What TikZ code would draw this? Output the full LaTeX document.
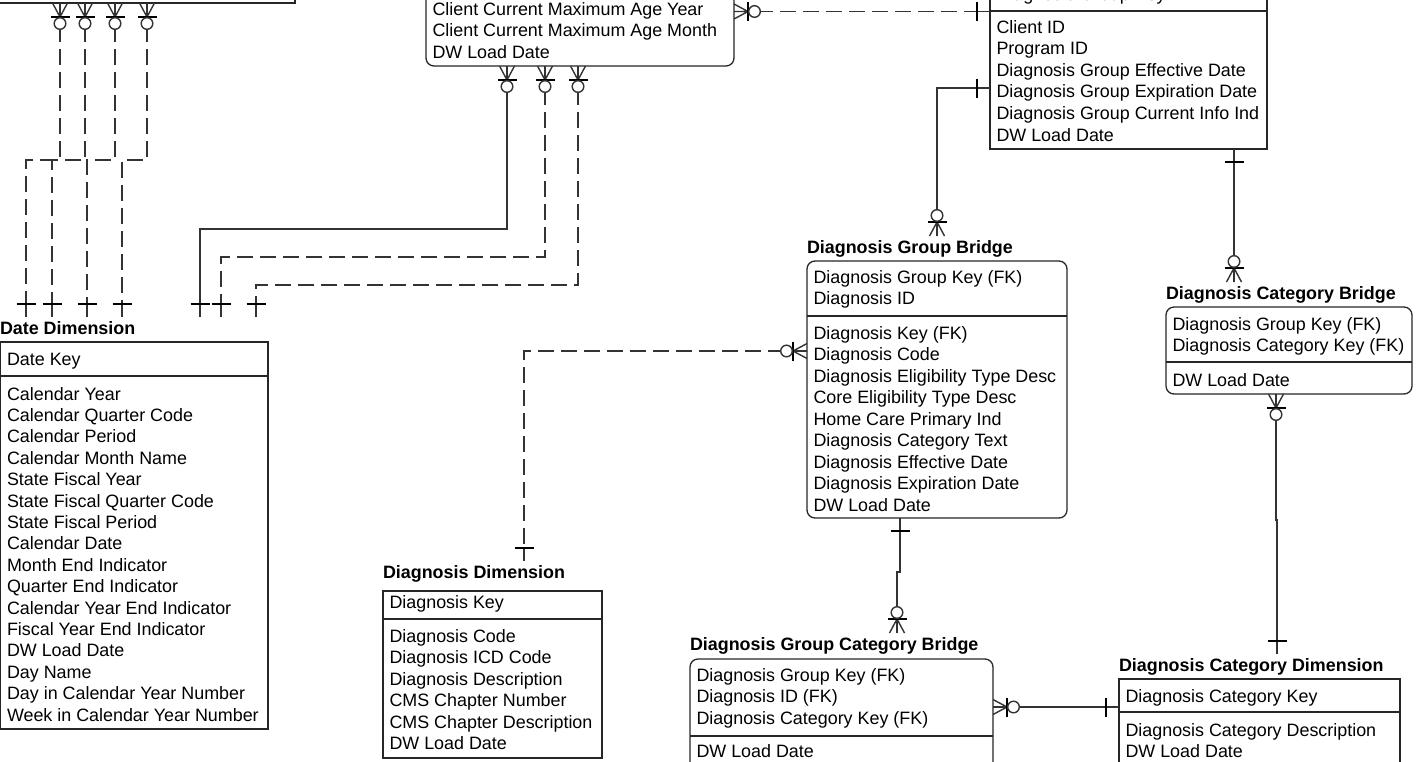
\documentclass[tikz,border=0pt]{standalone}
\usepackage{fontspec}
\setmainfont{Liberation Sans}
\newcommand\erows[5]{\foreach \t [count=\i] in {#5} {\node[txt] (#1-\i) at (#2,{#3+#4*(\i-1)}) {\t};}}
\tikzset{
  ebox/.style={draw=black!85, line width=1.3pt, outer sep=0pt, inner sep=0pt, fill=white, anchor=north west},
  rbox/.style={ebox, rounded corners=8pt},
  txt/.style={font=\fontsize{17.9}{21.5}\selectfont, anchor=base west, inner sep=0pt, outer sep=0pt},
  ttl/.style={txt, font=\fontsize{17.9}{21.5}\selectfont\bfseries, text height=17pt, text depth=4pt},
  conn/.style={draw=black!80, line width=1.4pt},
  dconn/.style={conn, dash pattern=on 16pt off 7pt},
  sepline/.style={draw=black!85, line width=1.3pt},
  barline/.style={draw=black, line width=2.2pt},
  manyopt/.pic={
    \draw[conn] (0,7.5) -- (14,0) -- (0,-7.5) (0,0) -- (14,0);
    \draw[barline] (14,-9.5) -- (14,9.5);
    \draw[conn, fill=white] (20.5,0) circle (5.8pt);
  },
  one/.pic={
    \draw[conn] (0,0) -- (13,0);
    \draw[barline] (13,-9.5) -- (13,9.5);
  }
}
\begin{document}
\begin{tikzpicture}[x=1pt, y=-1pt]
\useasboundingbox (0,0) rectangle (1421,761);
\clip (0,0) rectangle (1421,761);

% ---------- entity boxes ----------
\node[ebox, anchor=south east, minimum width=350pt, minimum height=60pt] (tl) at (295,3) {};
\node[ebox, minimum width=267.35pt, minimum height=387pt] (dd) at (0.65,342) {};
\node[rbox, minimum width=308pt, minimum height=106pt] (cb) at (426,-40) {};
\node[ebox, minimum width=277pt, minimum height=189pt] (rb) at (990,-40) {};
\node[rbox, minimum width=260pt, minimum height=257pt] (dgb) at (807,261) {};
\node[rbox, minimum width=246pt, minimum height=87pt] (dcb) at (1166,307) {};
\node[ebox, minimum width=281pt, minimum height=120pt] (dcd) at (1119,679) {};
\node[rbox, minimum width=303pt, minimum height=140pt] (dgcb) at (690,659) {};
\node[ebox, minimum width=219pt, minimum height=167pt] (ddim) at (383,591) {};

% separators
\draw[sepline] (dd.west |- 0,376) -- (dd.east |- 0,376);
\draw[sepline] (rb.west |- 0,11) -- (rb.east |- 0,11);
\draw[sepline] (dgb.west |- 0,316) -- (dgb.east |- 0,316);
\draw[sepline] (dcb.west |- 0,362) -- (dcb.east |- 0,362);
\draw[sepline] (dcd.west |- 0,712) -- (dcd.east |- 0,712);
\draw[sepline] (dgcb.west |- 0,736) -- (dgcb.east |- 0,736);
\draw[sepline] (ddim.west |- 0,619) -- (ddim.east |- 0,619);

% ---------- titles ----------
\node[ttl] (ddt) at (0,334) {Date Dimension};
\node[ttl] (dgbt) at (807,253) {Diagnosis Group Bridge};
\node[ttl] (dcbt) at (1166,299) {Diagnosis Category Bridge};
\node[ttl] (dcdt) at (1119,671) {Diagnosis Category Dimension};
\node[ttl] (dgcbt) at (690,650) {Diagnosis Group Category Bridge};
\node[ttl] (ddimt) at (383,578) {Diagnosis Dimension};

% ---------- attribute texts ----------
\erows{ddk}{7}{365}{21.4}{Date Key}
\erows{dda}{7}{400}{21.4}{Calendar Year, Calendar Quarter Code, Calendar Period, Calendar Month Name, State Fiscal Year, State Fiscal Quarter Code, State Fiscal Period, Calendar Date, Month End Indicator, Quarter End Indicator, Calendar Year End Indicator, Fiscal Year End Indicator, DW Load Date, Day Name, Day in Calendar Year Number, Week in Calendar Year Number}
\erows{cba}{432.5}{15.5}{21.3}{Client Current Maximum Age Year, Client Current Maximum Age Month, DW Load Date}
\erows{rbk}{996.5}{0}{21.5}{Diagnosis Group Key}
\erows{rba}{996.5}{33}{21.6}{Client ID, Program ID, Diagnosis Group Effective Date, Diagnosis Group Expiration Date, Diagnosis Group Current Info Ind, DW Load Date}
\erows{dgbk}{813.5}{283}{21.5}{Diagnosis Group Key (FK), Diagnosis ID}
\erows{dgba}{813.5}{339}{21.5}{Diagnosis Key (FK), Diagnosis Code, Diagnosis Eligibility Type Desc, Core Eligibility Type Desc, Home Care Primary Ind, Diagnosis Category Text, Diagnosis Effective Date, Diagnosis Expiration Date, DW Load Date}
\erows{dcbk}{1172.5}{330}{21.5}{Diagnosis Group Key (FK), Diagnosis Category Key (FK)}
\erows{dcba}{1172.5}{386}{21.5}{DW Load Date}
\erows{dcdk}{1125.5}{702}{21.5}{Diagnosis Category Key}
\erows{dcda}{1125.5}{736}{21.5}{Diagnosis Category Description, DW Load Date}
\erows{dgcbk}{696.5}{681}{21.6}{Diagnosis Group Key (FK), Diagnosis ID (FK), Diagnosis Category Key (FK)}
\erows{dgcba}{696.5}{757}{21.5}{DW Load Date}
\erows{ddimk}{389.5}{608}{21.5}{Diagnosis Key}
\erows{ddima}{389.5}{642}{21.5}{Diagnosis Code, Diagnosis ICD Code, Diagnosis Description, CMS Chapter Number, CMS Chapter Description, DW Load Date}

% ---------- connectors ----------
\draw[dconn] (tl.south -| 60,0) |- (26,160) -- (ddt.north -| 26,0);
\draw[dconn] (tl.south -| 85,0) |- (52,160) -- (ddt.north -| 52,0);
\draw[dconn] (tl.south -| 115,0) |- (87,160) -- (ddt.north -| 87,0);
\draw[dconn] (tl.south -| 147,0) |- (122,160) -- (ddt.north -| 122,0);
\draw[conn] (cb.south -| 507,0) |- (200,229) -- (ddt.north -| 200,0);
\draw[dconn] (cb.south -| 545,0) |- (221,257) -- (ddt.north -| 221,0);
\draw[dconn] (cb.south -| 578,0) |- (256,285) -- (ddt.north -| 256,0);
\draw[dconn] (cb.east |- 0,11.5) -- (rb.west |- 0,11.5);
\draw[conn] (rb.west |- 0,88) -| (dgbt.north -| 937,0);
\draw[conn] (rb.south -| 1234,0) -- (dcbt.north -| 1234,0);
\draw[conn] (dcb.south -| 1276,0) -- (1276,520) -- (1277,520) -- (dcdt.north -| 1277,0);
\draw[conn] (dgb.south -| 900,0) -- (900,572) -- (897,572) -- (dgcbt.north -| 897,0);
\draw[dconn] (dgb.west |- 0,351) -| (ddimt.north -| 524,0);
\draw[conn] (dgcb.east |- 0,707) -- (dcd.west |- 0,707);

% ---------- end symbols ----------
\foreach \xx in {60,85,115,147} {\pic[rotate=-90] at (tl.south -| \xx,0) {manyopt};}
\foreach \xx in {26,52,87,122,200,221,256} {\pic[rotate=90] at (ddt.north -| \xx,0) {one};}
\foreach \xx in {507,545,578} {\pic[rotate=-90] at (cb.south -| \xx,0) {manyopt};}
\pic at (cb.east |- 0,11.5) {manyopt};
\pic[rotate=180] at (rb.west |- 0,11.5) {one};
\pic[rotate=180] at (rb.west |- 0,88) {one};
\pic[rotate=90] at (dgbt.north -| 937,0) {manyopt};
\pic[rotate=-90] at (rb.south -| 1234,0) {one};
\pic[rotate=90] at (dcbt.north -| 1234,0) {manyopt};
\pic[rotate=-90] at (dcb.south -| 1276,0) {manyopt};
\pic[rotate=90] at (dcdt.north -| 1277,0) {one};
\pic[rotate=-90] at (dgb.south -| 900,0) {one};
\pic[rotate=90] at (dgcbt.north -| 897,0) {manyopt};
\pic[rotate=180] at (dgb.west |- 0,351) {manyopt};
\pic[rotate=90] at (ddimt.north -| 524,0) {one};
\pic at (dgcb.east |- 0,707) {manyopt};
\pic[rotate=180] at (dcd.west |- 0,707) {one};
\end{tikzpicture}
\end{document}
